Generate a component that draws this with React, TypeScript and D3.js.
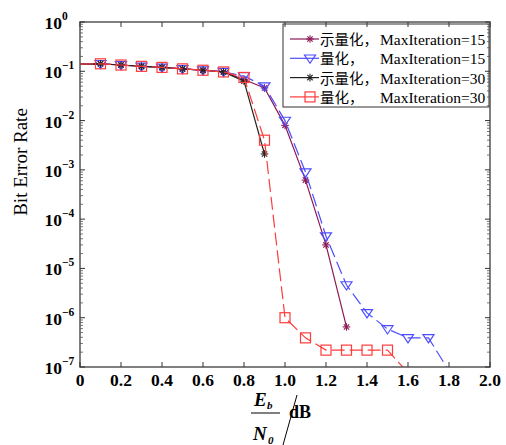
import React from "react";
import * as d3 from "d3";

const snr = [0, 0.1, 0.2, 0.3, 0.4, 0.5, 0.6, 0.7, 0.8, 0.9, 1.0, 1.1, 1.2, 1.3, 1.4, 1.5, 1.6, 1.7, 1.8];

const berUnq15 = [0.14, 0.142, 0.134, 0.126, 0.12, 0.112, 0.105, 0.097, 0.068, 0.046, 0.008, 6.2e-4, 3e-5, 6.5e-7];
const berQ15 = [0.14, 0.142, 0.134, 0.126, 0.12, 0.112, 0.105, 0.098, 0.08, 0.05, 0.01, 9e-4, 4.5e-5, 4.6e-6, 1.25e-6, 5.9e-7, 3.9e-7, 3.9e-7, 8.3e-8];
const berUnq30 = [0.14, 0.142, 0.134, 0.126, 0.12, 0.112, 0.105, 0.097, 0.063, 2.1e-3];
const berQ30 = [0.14, 0.142, 0.134, 0.126, 0.12, 0.112, 0.105, 0.097, 0.075, 4e-3, 1e-6, 3.9e-7, 2.2e-7, 2.2e-7, 2.2e-7, 2.2e-7, 7.6e-8];

const xTicks = [0, 0.2, 0.4, 0.6, 0.8, 1.0, 1.2, 1.4, 1.6, 1.8, 2.0];
const yExps = [0, -1, -2, -3, -4, -5, -6, -7];

const legendNames = ["示量化，", "量化，", "示量化，", "量化，"];
const legendIters = ["MaxIteration=15", "MaxIteration=15", "MaxIteration=30", "MaxIteration=30"];

type Series = { vals: number[]; color: string; dash: string | null; marker: "star" | "tri" | "sq" };
const series: Series[] = [
  { vals: berUnq15, color: "#8b1a55", dash: null, marker: "star" },
  { vals: berQ15, color: "#4d4dff", dash: "13,5", marker: "tri" },
  { vals: berUnq30, color: "#222222", dash: null, marker: "star" },
  { vals: berQ30, color: "#ff3b3b", dash: "13,5", marker: "sq" },
];

const W = 506, H = 445;
const L = 80, R = 490, T = 22, B = 367;
const serif = "'Liberation Serif', 'Times New Roman', serif";
const cjk = "'Liberation Serif', 'Noto Sans CJK SC', serif";

function Marker({ kind, x, y, color }: { kind: string; x: number; y: number; color: string }) {
  if (kind === "star") {
    const r = 3.8;
    const d = r * 0.7;
    return (
      <g stroke={color} strokeWidth={1.1}>
        <line x1={x - r} y1={y} x2={x + r} y2={y} />
        <line x1={x} y1={y - r} x2={x} y2={y + r} />
        <line x1={x - d} y1={y - d} x2={x + d} y2={y + d} />
        <line x1={x - d} y1={y + d} x2={x + d} y2={y - d} />
      </g>
    );
  }
  if (kind === "tri") {
    const s = 5.5;
    return (
      <path
        d={`M${x - s},${y - s * 0.6}L${x + s},${y - s * 0.6}L${x},${y + s * 0.9}Z`}
        fill="none"
        stroke={color}
        strokeWidth={1.2}
      />
    );
  }
  const s = 5;
  return <rect x={x - s} y={y - s} width={2 * s} height={2 * s} fill="none" stroke={color} strokeWidth={1.2} />;
}

export default function App() {
  const x = d3.scaleLinear().domain([0, 2]).range([L, R]);
  const y = d3.scaleLog().domain([1e-7, 1]).range([B, T]);

  const line = d3
    .line<[number, number]>()
    .x((d) => x(d[0]))
    .y((d) => y(d[1]));

  const minor: number[] = [];
  for (let e = -7; e < 0; e++) {
    for (let k = 2; k <= 9; k++) minor.push(k * Math.pow(10, e));
  }

  return (
    <svg width={W} height={H} style={{ position: "absolute", left: 0, top: 0, background: "#fff" }}>
      <defs>
        <clipPath id="plot">
          <rect x={L} y={T} width={R - L} height={B - T} />
        </clipPath>
      </defs>
      <rect x={0} y={0} width={W} height={H} fill="#fff" />

      {/* data */}
      <g clipPath="url(#plot)">
        {series.map((s, i) => {
          const pts: [number, number][] = s.vals.map((v, j) => [snr[j], v]);
          return (
            <g key={i}>
              <path
                d={line(pts) || ""}
                fill="none"
                stroke={s.color}
                strokeWidth={1.2}
                strokeDasharray={s.dash || undefined}
              />
              {pts
                .filter((p) => p[0] > 0.05)
                .map((p, j) => (
                  <Marker key={j} kind={s.marker} x={x(p[0])} y={y(p[1])} color={s.color} />
                ))}
            </g>
          );
        })}
      </g>

      {/* legend */}
      <g>
        <rect x={283} y={24} width={206} height={83} fill="#fff" stroke="#333" strokeWidth={1} />
        {series.map((s, i) => {
          const ly = 39 + i * 19.3;
          return (
            <g key={i}>
              <line x1={290} y1={ly} x2={319} y2={ly} stroke={s.color} strokeWidth={1.2} />
              <Marker kind={s.marker} x={310} y={ly} color={s.color} />
              <text x={320} y={ly + 6} fontFamily={cjk} fontSize={14.5} fill="#000">
                {legendNames[i]}
              </text>
              <text x={380} y={ly + 6} fontFamily={serif} fontSize={15.5} fill="#000">
                {legendIters[i]}
              </text>
            </g>
          );
        })}
      </g>

      {/* frame */}
      <rect x={L} y={T} width={R - L} height={B - T} fill="none" stroke="#555" strokeWidth={1.5} />

      {/* x ticks */}
      {xTicks.map((t, i) => (
        <g key={i}>
          <line x1={x(t)} y1={B} x2={x(t)} y2={B - 5} stroke="#333" />
          <line x1={x(t)} y1={T} x2={x(t)} y2={T + 5} stroke="#333" />
          <text x={x(t)} y={386} textAnchor="middle" fontFamily={serif} fontWeight="bold" fontSize={17.5}>
            {t === 0 ? "0" : t.toFixed(1)}
          </text>
        </g>
      ))}

      {/* y ticks */}
      {yExps.map((e, i) => {
        const yy = y(Math.pow(10, e));
        return (
          <g key={i}>
            <line x1={L} y1={yy} x2={L + 5} y2={yy} stroke="#333" />
            <line x1={R} y1={yy} x2={R - 5} y2={yy} stroke="#333" />
            <text x={62} y={yy + 7} textAnchor="end" fontFamily={serif} fontWeight="bold" fontSize={17.5}>
              10
            </text>
            <text x={62} y={yy - 2} textAnchor="start" fontFamily={serif} fontWeight="bold" fontSize={11.5}>
              {e === 0 ? "0" : "\u2212" + Math.abs(e)}
            </text>
          </g>
        );
      })}
      {minor.map((m, i) => (
        <g key={i}>
          <line x1={L} y1={y(m)} x2={L + 3} y2={y(m)} stroke="#555" strokeWidth={0.8} />
          <line x1={R} y1={y(m)} x2={R - 3} y2={y(m)} stroke="#555" strokeWidth={0.8} />
        </g>
      ))}

      {/* y label */}
      <text
        transform="translate(27,162) rotate(-90)"
        textAnchor="middle"
        fontFamily={serif}
        fontSize={19}
      >
        Bit Error Rate
      </text>

      {/* x label: Eb/N0 /dB */}
      <g fontFamily={serif} fontWeight="bold" fontStyle="italic">
        <text x={254} y={406} fontSize={19}>E</text>
        <text x={267} y={409} fontSize={11}>b</text>
        <line x1={251} y1={413} x2={280} y2={413} stroke="#000" strokeWidth={1} />
        <text x={253} y={440} fontSize={19}>N</text>
        <text x={268} y={444} fontSize={11}>0</text>
      </g>
      <line x1={297} y1={395} x2={283} y2={445} stroke="#000" strokeWidth={1} />
      <text x={289} y={418} fontFamily={serif} fontWeight="bold" fontSize={18}>
        dB
      </text>
    </svg>
  );
}
